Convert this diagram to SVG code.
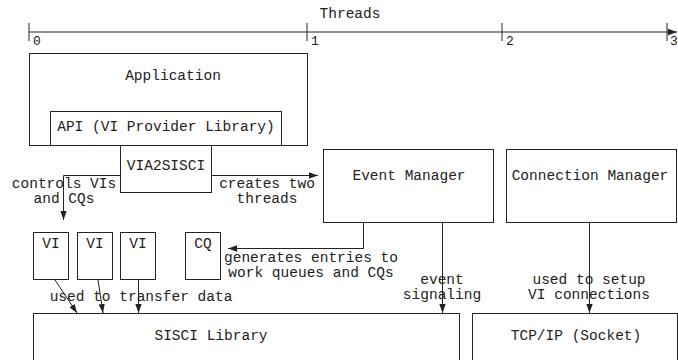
<svg xmlns="http://www.w3.org/2000/svg" width="678" height="360" viewBox="0 0 678 360">
<style>
rect{fill:#fff;stroke:#222;stroke-width:1}
text{font-family:"Liberation Mono","DejaVu Sans Mono",monospace;font-size:14.5px;fill:#222;text-anchor:middle}
.num{font-size:13px;text-anchor:start}
.c line,.c path{fill:none;stroke:#222;stroke-width:1}
</style>
<defs>
<marker id="ah" viewBox="0 0 10 10" refX="10" refY="5" markerWidth="9" markerHeight="9" markerUnits="userSpaceOnUse" orient="auto">
<path d="M0,1.5 L10,5 L0,8.5 Z" fill="#222"/>
</marker>
</defs>
<g id="axis" class="c">
<line x1="29" y1="32" x2="677" y2="32" marker-end="url(#ah)"/>
<line x1="29" y1="23" x2="29" y2="41"/>
<line x1="307" y1="23" x2="307" y2="41"/>
<line x1="502" y1="23" x2="502" y2="41"/>
<line x1="667" y1="23" x2="667" y2="41"/>
<text x="350" y="18">Threads</text>
<text class="num" x="33" y="45">0</text>
<text class="num" x="311" y="45">1</text>
<text class="num" x="506" y="45">2</text>
<text class="num" x="670" y="45">3</text>
</g>
<g id="application"><rect x="29.5" y="53.5" width="278" height="92"/><text x="173" y="80">Application</text></g>
<g id="api"><rect x="50.5" y="111.5" width="231" height="34"/><text x="166" y="131">API (VI Provider Library)</text></g>
<g id="via2sisci"><rect x="120.5" y="145.5" width="91" height="47"/><text x="166" y="170">VIA2SISCI</text></g>
<g id="eventmanager"><rect x="323.5" y="149.5" width="170" height="73"/><text x="409" y="180">Event Manager</text></g>
<g id="connectionmanager"><rect x="506.5" y="149.5" width="170" height="73"/><text x="590" y="180">Connection Manager</text></g>
<g id="vi1"><rect x="33.5" y="232.5" width="35" height="47"/><text x="51" y="248">VI</text></g>
<g id="vi2"><rect x="77.5" y="232.5" width="35" height="47"/><text x="95" y="248">VI</text></g>
<g id="vi3"><rect x="120.5" y="232.5" width="35" height="47"/><text x="138" y="248">VI</text></g>
<g id="cq"><rect x="185.5" y="232.5" width="35" height="47"/><text x="203" y="248">CQ</text></g>
<g id="sisci"><rect x="33.5" y="313.5" width="426" height="60"/><text x="211" y="340">SISCI Library</text></g>
<g id="tcpip"><rect x="472.5" y="313.5" width="205" height="60"/><text x="576" y="340">TCP/IP (Socket)</text></g>
<g id="connectors" class="c">
<path d="M120,175.5 H63.5 V220" marker-end="url(#ah)"/>
<line x1="212" y1="175.5" x2="318" y2="175.5" marker-end="url(#ah)"/>
<path d="M363.5,223 V248.5 H228" marker-end="url(#ah)"/>
<line x1="442.5" y1="223" x2="442.5" y2="313" marker-end="url(#ah)"/>
<line x1="589.5" y1="223" x2="589.5" y2="313" marker-end="url(#ah)"/>
<line x1="55" y1="280" x2="77" y2="313" marker-end="url(#ah)"/>
<line x1="98" y1="280" x2="103" y2="313" marker-end="url(#ah)"/>
<line x1="138.5" y1="280" x2="138.5" y2="313" marker-end="url(#ah)"/>
<text x="64" y="188">controls VIs</text>
<text x="64" y="203">and CQs</text>
<text x="267" y="188">creates two</text>
<text x="267" y="203">threads</text>
<text x="311" y="262">generates entries to</text>
<text x="311" y="277">work queues and CQs</text>
<text x="442" y="284">event</text>
<text x="442" y="299">signaling</text>
<text x="589" y="284">used to setup</text>
<text x="589" y="299">VI connections</text>
<text x="141" y="301">used to transfer data</text>
</g>
</svg>
